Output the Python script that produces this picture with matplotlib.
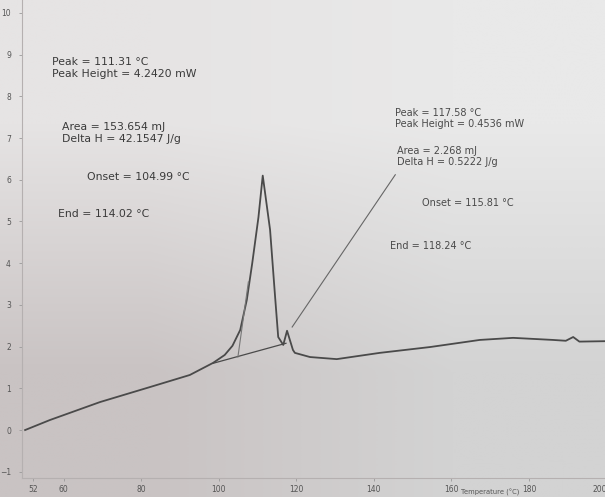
import matplotlib
matplotlib.use('Agg')
import matplotlib.pyplot as plt
from matplotlib.colors import to_rgb
import numpy as np

temp = [50.0, 56.4, 69.3, 82.2, 92.5, 98.5, 101.5, 103.5, 105.5, 107.2, 108.6, 110.2,
        111.31, 113.2, 114.5, 115.3, 116.6, 117.58, 119.1, 119.6, 123.5, 130.4,
        141.5, 154.5, 167.3, 175.9, 186.2, 189.5, 191.4, 193.0, 199.6]
fluxo = [0.0, 0.24, 0.67, 1.03, 1.32, 1.61, 1.80, 2.02, 2.40, 3.12, 4.0, 5.1,
         6.1, 4.8, 3.19, 2.23, 2.04, 2.38, 1.92, 1.85, 1.75, 1.70,
         1.85, 1.99, 2.16, 2.21, 2.16, 2.14, 2.23, 2.12, 2.13]

# linhas auxiliares (baseline, tangente do onset, seta do segundo pico)
base_t = [98.5, 117.3]
base_f = [1.60, 2.08]
onset_t = [104.9, 107.6]
onset_f = [1.75, 3.55]
seta_t = [118.9, 145.5]
seta_f = [2.47, 6.12]

xticks = [52, 60, 80, 100, 120, 140, 160, 180, 200]
yticks = [-1, 0, 1, 2, 3, 4, 5, 6, 7, 8, 9, 10]

anot_esq = [
    (52, 62, 'Peak = 111.31 °C'),
    (52, 74, 'Peak Height = 4.2420 mW'),
    (62, 127, 'Area = 153.654 mJ'),
    (62, 139, 'Delta H = 42.1547 J/g'),
    (87, 177, 'Onset = 104.99 °C'),
    (58, 214, 'End = 114.02 °C'),
]
anot_dir = [
    (395, 113, 'Peak = 117.58 °C'),
    (395, 124, 'Peak Height = 0.4536 mW'),
    (397, 151, 'Area = 2.268 mJ'),
    (397, 162, 'Delta H = 0.5222 J/g'),
    (422, 203, 'Onset = 115.81 °C'),
    (390, 246, 'End = 118.24 °C'),
]

W, H = 605, 497
fig = plt.figure(figsize=(W / 100, H / 100), dpi=100)

## Fundo de papel fotografado (gradiente)
bg = fig.add_axes([0, 0, 1, 1])
cantos = np.array([[to_rgb('#e6e4e4'), to_rgb('#e9e9e9')],
                   [to_rgb('#c9c3c3'), to_rgb('#d3d3d3')]])
bg.imshow(cantos, extent=[0, 1, 0, 1], aspect='auto', interpolation='bilinear')
bg.axis('off')

ax = fig.add_axes([22 / W, (H - 478) / H, 588 / W, 478 / H])
ax.patch.set_alpha(0)
ax.set_xlim(49.2, 200.9)
ax.set_ylim(-1.15, 10.31)

cor = '#4a4a4a'
ax.plot(temp, fluxo, color=cor, lw=1.3)
ax.plot(base_t, base_f, color=cor, lw=0.9)
ax.plot(onset_t, onset_f, color='#777777', lw=0.8)
ax.plot(seta_t, seta_f, color='#666666', lw=0.8)

for s in ['top', 'right']:
    ax.spines[s].set_visible(False)
for s in ['left', 'bottom']:
    ax.spines[s].set_color('#b5b0b0')
    ax.spines[s].set_linewidth(0.8)

ax.set_xticks(xticks)
ax.set_yticks(yticks)
ax.tick_params(axis='both', colors='#9a9a9a', labelcolor='#555555',
               labelsize=5.5, length=2, width=0.6)
ax.tick_params(axis='y', pad=6)
ax.tick_params(axis='x', pad=3)
ax.get_xticklabels()[-1].set_horizontalalignment('right')

# texto um pouco esticado na foto: fonte larga, corpo pequeno
for x, y, s in anot_esq:
    fig.text(x / W, 1 - y / H, s, fontsize=7.8, family='DejaVu Sans',
             color='#3a3a3a', va='center', ha='left')
for x, y, s in anot_dir:
    fig.text(x / W, 1 - y / H, s, fontsize=7, family='DejaVu Sans',
             color='#4a4a4a', va='center', ha='left')

fig.text(461 / W, 1 - 492 / H, 'Temperature (°C)', fontsize=4.9, color='#555555',
         va='center', ha='left')

fig.savefig('out.png', dpi=100)
